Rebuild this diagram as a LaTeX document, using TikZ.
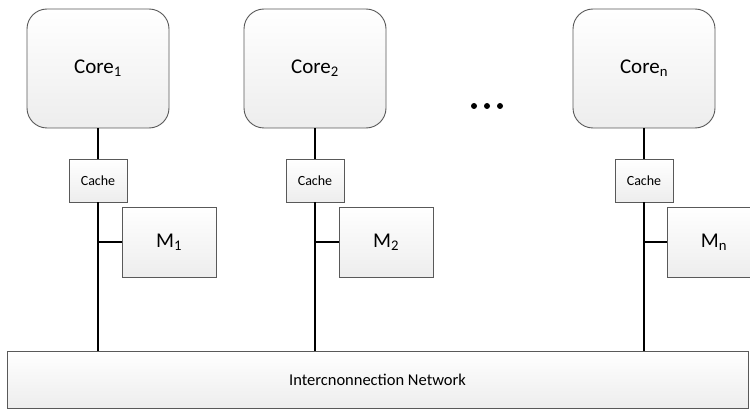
\documentclass[tikz,border=0pt]{standalone}
\usepackage{fontspec}
\setmainfont{Carlito}
\begin{document}
\begin{tikzpicture}[x=1pt,y=-1pt,
  box/.style={draw=black!65, line width=0.9pt, top color=white, bottom color=black!7, inner sep=0pt},
  core/.style={box, rounded corners=20pt, minimum width=142pt, minimum height=119pt, font=\fontsize{21}{24}\selectfont},
  cache/.style={box, minimum width=58pt, minimum height=43pt, font=\fontsize{14}{16}\selectfont},
  mem/.style={box, minimum width=94pt, minimum height=70pt, font=\fontsize{21}{24}\selectfont},
  net/.style={box, minimum width=741pt, minimum height=57pt, font=\fontsize{16.5}{19}\selectfont},
  wire/.style={draw=black, line width=1.7pt}]
\clip (0,0) rectangle (750,409);
\fill[white] (0,0) rectangle (750,409);

% processor cores
\node[core] (core1) at (98,68.5) {Core\textsubscript{1}};
\node[core] (core2) at (315,68.5) {Core\textsubscript{2}};
\node[core] (coren) at (644,68.5) {Core\textsubscript{n}};

% caches
\node[cache] (cache1) at (98,180.5) {Cache};
\node[cache] (cache2) at (315,180.5) {Cache};
\node[cache] (cachen) at (644,180.5) {Cache};

% local memories
\node[mem] (m1) at (169,242) {M\textsubscript{1}};
\node[mem] (m2) at (386,242) {M\textsubscript{2}};
\node[mem] (mn) at (714,242) {M\textsubscript{n}};

% interconnect
\node[net] (net) at (377.5,379.5) {Intercnonnection Network};

% wiring
\foreach \i in {1,2,n}{
  \draw[wire] (core\i.south) -- (cache\i.north);
  \draw[wire] (cache\i.south) -- (cache\i.south |- net.north);
  \draw[wire] (mn.west -| cache\i.south) -- (m\i.west);
}

% ellipsis between cores
\foreach \x in {474,487,500}
  \fill (\x,106) circle (3pt);
\end{tikzpicture}
\end{document}
